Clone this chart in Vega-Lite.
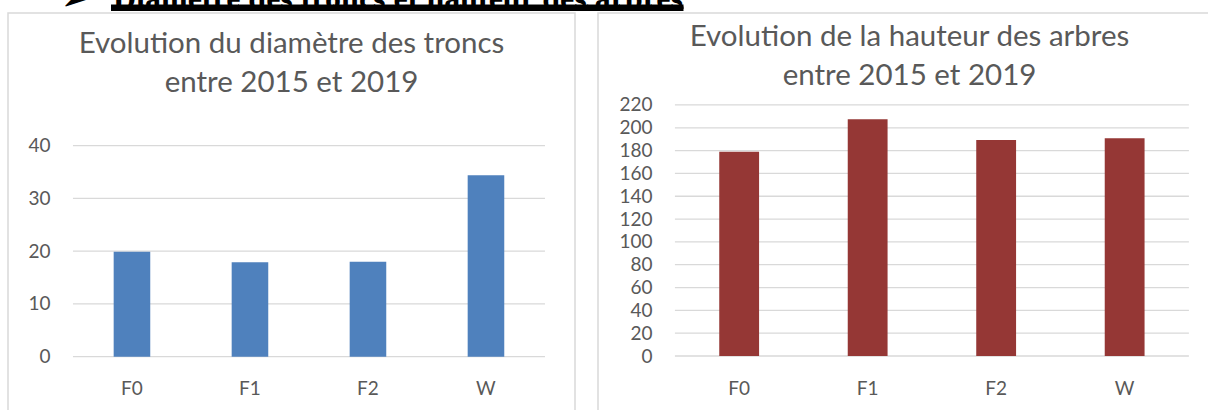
{
  "$schema": "https://vega.github.io/schema/vega-lite/v6.json",
  "autosize": {"type": "none"},
  "padding": {"left": 8, "top": 13, "right": 1200, "bottom": 397},
  "background": "white",
  "title": {
    "text": "➢\u00a0\u00a0\u00a0Diamètre des troncs et hauteur des arbres",
    "subtitle": ["__________________", "__________________"],
    "anchor": "end",
    "frame": "group",
    "dx": 675,
    "dy": 62,
    "offset": 0,
    "baseline": "alphabetic",
    "font": "Liberation Serif",
    "fontSize": 32,
    "fontWeight": "bold",
    "color": "#000000",
    "subtitleFont": "Liberation Serif",
    "subtitleFontSize": 63.5,
    "subtitleFontWeight": "bold",
    "subtitleColor": "#000000",
    "subtitleLineHeight": 2,
    "subtitlePadding": -40.5
  },
  "datasets": {
    "diam": [
      {"parcelle": "F0", "diametre": 19.9},
      {"parcelle": "F1", "diametre": 17.9},
      {"parcelle": "F2", "diametre": 18.0},
      {"parcelle": "W", "diametre": 34.4}
    ],
    "haut": [
      {"parcelle": "F0", "hauteur": 179.1},
      {"parcelle": "F1", "hauteur": 207.5},
      {"parcelle": "F2", "hauteur": 189.3},
      {"parcelle": "W", "hauteur": 190.8}
    ]
  },
  "bounds": "flush",
  "spacing": 23,
  "hconcat": [
    {
      "width": 567,
      "height": 398,
      "title": {
        "text": ["Evolution du diamètre des troncs", "entre 2015 et 2019"],
        "anchor": "middle",
        "frame": "group",
        "offset": 0,
        "dy": 108,
        "baseline": "alphabetic",
        "font": "Lato",
        "fontSize": 29.5,
        "fontWeight": "normal",
        "color": "#595959",
        "lineHeight": 39
      },
      "layer": [
        {
          "data": {"values": [{"v": 0}, {"v": 10}, {"v": 20}, {"v": 30}, {"v": 40}]},
          "mark": {"type": "rule", "color": "#d9d9d9", "strokeWidth": 1.3},
          "encoding": {
            "y": {"field": "v", "type": "quantitative", "scale": {"domain": [-10.29, 65.16], "nice": false, "zero": false}, "axis": {"title": null, "values": [0, 10, 20, 30, 40], "offset": -42, "labelPadding": 0}},
            "x": {"datum": "F0", "type": "nominal", "bandPosition": -1.113, "scale": {"domain": ["F0", "F1", "F2", "W"], "paddingInner": 0.69, "paddingOuter": 0.7475, "align": 0.599}, "axis": {"title": null, "offset": -22.7, "labelBaseline": "middle", "labelPadding": 0, "labelAngle": 0}},
            "x2": {"datum": "W", "bandPosition": 2.113}
          }
        },
        {
          "data": {"name": "diam"},
          "mark": {"type": "bar", "color": "#4F81BD"},
          "encoding": {
            "x": {"field": "parcelle", "type": "nominal", "sort": null, "scale": {"domain": ["F0", "F1", "F2", "W"], "paddingInner": 0.69, "paddingOuter": 0.7475, "align": 0.599}, "axis": {"title": null, "offset": -22.7, "labelBaseline": "middle", "labelPadding": 0, "labelAngle": 0}},
            "y": {"field": "diametre", "type": "quantitative", "scale": {"domain": [-10.29, 65.16], "nice": false, "zero": false}, "axis": {"title": null, "values": [0, 10, 20, 30, 40], "offset": -42, "labelPadding": 0}}
          }
        }
      ]
    },
    {
      "width": 611,
      "height": 398,
      "title": {
        "text": ["Evolution de la hauteur des arbres", "entre 2015 et 2019"],
        "anchor": "middle",
        "frame": "group",
        "offset": 0,
        "dy": 101,
        "dx": 6,
        "baseline": "alphabetic",
        "font": "Lato",
        "fontSize": 29.5,
        "fontWeight": "normal",
        "color": "#595959",
        "lineHeight": 39
      },
      "layer": [
        {
          "data": {"values": [{"v": 0}, {"v": 20}, {"v": 40}, {"v": 60}, {"v": 80}, {"v": 100}, {"v": 120}, {"v": 140}, {"v": 160}, {"v": 180}, {"v": 200}, {"v": 220}]},
          "mark": {"type": "rule", "color": "#d9d9d9", "strokeWidth": 1.3},
          "encoding": {
            "y": {"field": "v", "type": "quantitative", "scale": {"domain": [-48.2, 300.6], "nice": false, "zero": false}, "axis": {"title": null, "values": [0, 20, 40, 60, 80, 100, 120, 140, 160, 180, 200, 220], "offset": -54, "labelPadding": 0}},
            "x": {"datum": "F0", "type": "nominal", "bandPosition": -1.113, "scale": {"domain": ["F0", "F1", "F2", "W"], "paddingInner": 0.69, "paddingOuter": 0.7225, "align": 0.653}, "axis": {"title": null, "offset": -22.7, "labelBaseline": "middle", "labelPadding": 0, "labelAngle": 0}},
            "x2": {"datum": "W", "bandPosition": 2.113}
          }
        },
        {
          "data": {"name": "haut"},
          "mark": {"type": "bar", "color": "#953735"},
          "encoding": {
            "x": {"field": "parcelle", "type": "nominal", "sort": null, "scale": {"domain": ["F0", "F1", "F2", "W"], "paddingInner": 0.69, "paddingOuter": 0.7225, "align": 0.653}, "axis": {"title": null, "offset": -22.7, "labelBaseline": "middle", "labelPadding": 0, "labelAngle": 0}},
            "y": {"field": "hauteur", "type": "quantitative", "scale": {"domain": [-48.2, 300.6], "nice": false, "zero": false}, "axis": {"title": null, "values": [0, 20, 40, 60, 80, 100, 120, 140, 160, 180, 200, 220], "offset": -54, "labelPadding": 0}}
          }
        }
      ]
    }
  ],
  "config": {
    "view": {"stroke": "#d9d9d9", "strokeWidth": 1.5},
    "axis": {"labelFont": "Lato", "labelFontSize": 19, "labelColor": "#595959", "domain": false, "ticks": false, "tickSize": 0, "grid": false}
  }
}
